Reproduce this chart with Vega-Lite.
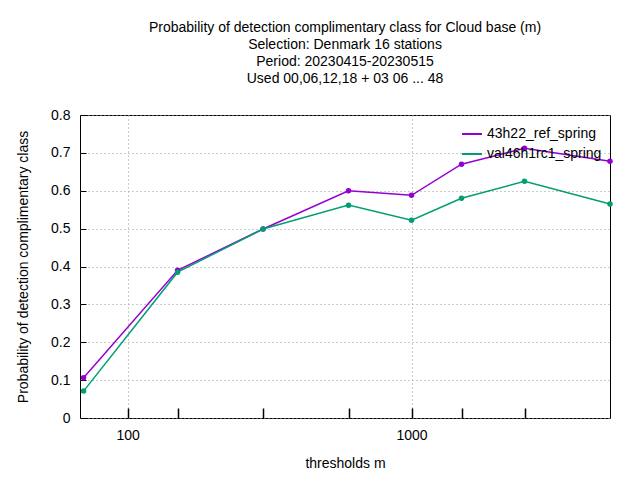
{
  "$schema": "https://vega.github.io/schema/vega-lite/v6.json",
  "width": 530,
  "height": 303,
  "autosize": "none",
  "padding": {"left": 80, "top": 115, "right": 30, "bottom": 62},
  "background": "white",
  "config": {"font": "Liberation Sans", "view": {"stroke": "black", "strokeWidth": 1}},
  "title": {
    "text": ["Probability of detection complimentary class  for Cloud base (m)", "Selection: Denmark     16 stations", "Period: 20230415-20230515", "Used  00,06,12,18 + 03 06 ... 48"],
    "fontSize": 14, "fontWeight": "normal", "lineHeight": 17, "offset": 22, "anchor": "middle", "frame": "group"
  },
  "data": {"values": [
    {"x": 70, "y": 0.106, "s": "43h22_ref_spring"},
    {"x": 150, "y": 0.39, "s": "43h22_ref_spring"},
    {"x": 300, "y": 0.499, "s": "43h22_ref_spring"},
    {"x": 600, "y": 0.60, "s": "43h22_ref_spring"},
    {"x": 1000, "y": 0.588, "s": "43h22_ref_spring"},
    {"x": 1500, "y": 0.67, "s": "43h22_ref_spring"},
    {"x": 2500, "y": 0.712, "s": "43h22_ref_spring"},
    {"x": 5000, "y": 0.678, "s": "43h22_ref_spring"},
    {"x": 70, "y": 0.071, "s": "val46h1rc1_spring"},
    {"x": 150, "y": 0.385, "s": "val46h1rc1_spring"},
    {"x": 300, "y": 0.499, "s": "val46h1rc1_spring"},
    {"x": 600, "y": 0.562, "s": "val46h1rc1_spring"},
    {"x": 1000, "y": 0.522, "s": "val46h1rc1_spring"},
    {"x": 1500, "y": 0.58, "s": "val46h1rc1_spring"},
    {"x": 2500, "y": 0.625, "s": "val46h1rc1_spring"},
    {"x": 5000, "y": 0.565, "s": "val46h1rc1_spring"}
  ]},
  "mark": {"type": "line", "point": {"shape": "circle", "size": 30, "filled": true}, "strokeWidth": 1.5},
  "encoding": {
    "x": {
      "field": "x", "type": "quantitative",
      "scale": {"type": "log", "domain": [68, 5000], "nice": false},
      "axis": {
        "title": "thresholds m", "titleFontSize": 14, "titleFontWeight": "normal", "titlePadding": 14,
        "values": [150, 300, 600, 1500, 2500, 100, 1000], "format": "d",
        "labelExpr": "datum.value == 100 || datum.value == 1000 ? datum.label : ''",
        "labelFontSize": 14, "labelColor": "black", "labelPadding": 20,
        "domain": false, "tickColor": "black", "tickSize": -10, "tickWidth": 1.5,
        "gridColor": "#999", "gridDash": [1, 3],
        "gridOpacity": {"expr": "datum.value == 100 || datum.value == 1000 ? 1 : 0"}
      }
    },
    "y": {
      "field": "y", "type": "quantitative",
      "scale": {"domain": [0, 0.8], "nice": false},
      "axis": {
        "title": "Probability of detection complimentary class", "titleFontSize": 14, "titleFontWeight": "normal", "titlePadding": 20,
        "values": [0, 0.1, 0.2, 0.3, 0.4, 0.5, 0.6, 0.7, 0.8], "format": ".1~f",
        "labelFontSize": 14, "labelColor": "black", "labelPadding": 16, "domain": false,
        "tickColor": "black", "tickSize": -6, "gridColor": "#999", "gridDash": [1, 3]
      }
    },
    "color": {
      "field": "s", "type": "nominal",
      "scale": {"domain": ["43h22_ref_spring", "val46h1rc1_spring"], "range": ["#9400d3", "#009e73"]},
      "legend": {"title": null, "orient": "top-right", "labelFontSize": 14, "symbolType": "stroke", "symbolSize": 400, "symbolStrokeWidth": 2, "labelLimit": 300, "offset": 6, "padding": 2}
    }
  }
}
